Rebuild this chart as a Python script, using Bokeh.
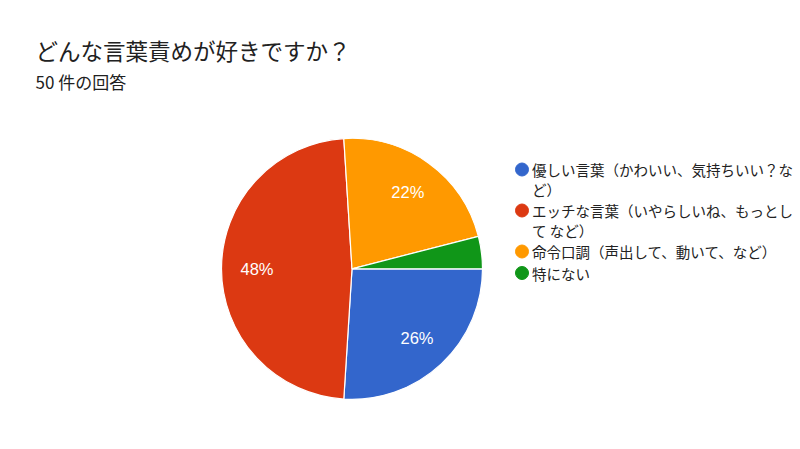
import math
from bokeh.plotting import figure
from bokeh.models import Range1d, ColumnDataSource
from bokeh.core.properties import value
from bokeh.embed import file_html
from bokeh.resources import INLINE

title = "どんな言葉責めが好きですか？"
subtitle = "50 件の回答"
categories = [
    "優しい言葉（かわいい、気持ちいい？など）",
    "エッチな言葉（いやらしいね、もっとして など）",
    "命令口調（声出して、動いて、など）",
    "特にない",
]
percents = [26, 48, 22, 4]
colors = ["#3366cc", "#dc3912", "#ff9900", "#109618"]

W, H = 800, 449
FONT = "Noto Sans CJK JP"
NUMFONT = "Liberation Sans"

p = figure(width=W, height=H, x_range=Range1d(0, W), y_range=Range1d(0, H),
           output_backend="svg", toolbar_location=None, min_border=0,
           x_axis_type=None, y_axis_type=None)
p.grid.visible = False
p.outline_line_color = None
p.background_fill_color = "white"

def Y(y):
    return H - y

# title
p.text(x=[35], y=[Y(49)], text=[title], text_font=value(FONT), text_font_size="22.5px",
       text_color="#212121", text_baseline="middle", text_align="left")
p.text(x=[35], y=[Y(81)], text=[subtitle], text_font=value(FONT), text_font_size="17px",
       text_color="#212121", text_baseline="middle", text_align="left")

# pie (clockwise starting at east)
cx, cy, r = 351.5, 268.3, 130.5
total = sum(percents)
starts, ends, lx, ly, labels = [], [], [], [], []
cum = 0.0
for v in percents:
    a0 = cum / total * 2 * math.pi
    cum += v
    a1 = cum / total * 2 * math.pi
    starts.append(-a1)
    ends.append(-a0)
    mid = (a0 + a1) / 2
    lx.append(cx + 95 * math.cos(mid))
    ly.append(Y(cy + 95 * math.sin(mid)))
    labels.append(f"{v}%" if v >= 5 else "")

src = ColumnDataSource(dict(x=[cx] * len(percents), y=[Y(cy)] * len(percents),
                            start=starts, end=ends, color=colors))
p.wedge(x="x", y="y", radius=r, radius_units="screen", start_angle="start",
        end_angle="end", fill_color="color", line_color="white", line_width=1.2,
        source=src)
p.text(x=lx, y=ly, text=labels, text_font=value(NUMFONT), text_font_size="16.5px",
       text_color="white", text_baseline="middle", text_align="center")

# legend
wrap = 18
line_h = 19.5
gap = 2.0
ly0 = 169.0
mx, my, mc, tx, ty, tt = [], [], [], [], [], []
yy = ly0
for cat, col in zip(categories, colors):
    lines = [cat[i:i + wrap] for i in range(0, len(cat), wrap)]
    mx.append(521.5)
    my.append(Y(yy))
    mc.append(col)
    for ln in lines:
        tx.append(531.5)
        ty.append(Y(yy))
        tt.append(ln.lstrip())
        yy += line_h
    yy += gap

p.scatter(x=mx, y=my, size=13, fill_color=mc, line_color=mc, marker="circle")
p.text(x=tx, y=ty, text=tt, text_font=value(FONT), text_font_size="14.5px",
       text_color="#222222", text_baseline="middle", text_align="left")

open("out.html", "w").write(file_html(p, INLINE))
